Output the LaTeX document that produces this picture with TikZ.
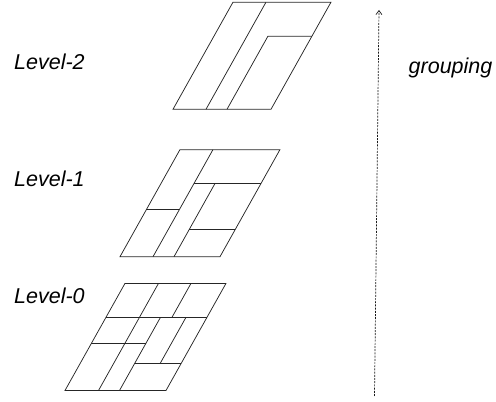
\documentclass[tikz,border=0pt]{standalone}
\usepackage{fontspec}
\setmainfont{Liberation Sans}
\usetikzlibrary{arrows.meta}
\begin{document}
\begin{tikzpicture}[x=1pt,y=1pt,
  cell/.style={draw=black!85,line width=0.75pt,line join=miter},
  lbl/.style={anchor=base west,inner sep=0pt,font=\fontsize{21.5}{25}\selectfont\itshape},
  plane/.style={xslant=0.56}]
\useasboundingbox (0,0) rectangle (496,402);

% Level-2 partition
\begin{scope}[shift={(173,292.7)},plane]
  \draw[cell] (0,0) rectangle (98,107);
  \draw[cell] (33,0) -- (33,107);
  \draw[cell] (54,0) -- (54,73) -- (98,73);
\end{scope}

% Level-1 partition
\begin{scope}[shift={(120,145.3)},plane]
  \draw[cell] (0,0) rectangle (100,107);
  \draw[cell] (33,0) -- (33,107);
  \draw[cell] (0,47) -- (33,47);
  \draw[cell] (33,73) -- (100,73);
  \draw[cell] (54,0) -- (54,73);
  \draw[cell] (54,27) -- (100,27);
\end{scope}

% Level-0 partition
\begin{scope}[shift={(65,11.5)},plane]
  \draw[cell] (0,0) rectangle (101,107);
  \draw[cell] (0,73) -- (101,73);
  \draw[cell] (33.5,0) -- (33.5,107);
  \draw[cell] (66,73) -- (66,107);
  \draw[cell] (0,47) -- (54.5,47);
  \draw[cell] (54.5,0) -- (54.5,73);
  \draw[cell] (80,27) -- (80,73);
  \draw[cell] (54.5,27) -- (101,27);
\end{scope}

% level labels
\node[lbl] (l2) at (14,332.5) {Level-2};
\node[lbl] (l1) at (14,215.3) {Level-1};
\node[lbl] (l0) at (14,98.7) {Level-0};
\node[lbl] (grp) at (408.5,328) {grouping};

% grouping direction
\coordinate (gbot) at (374.5,6);
\coordinate (gtop) at (379,392);
\draw[black!90,line width=0.7pt,dash pattern=on 2pt off 1.2pt,
  -{Straight Barb[length=4pt,width=6pt]}] (gbot) -- (gtop);
\end{tikzpicture}
\end{document}
